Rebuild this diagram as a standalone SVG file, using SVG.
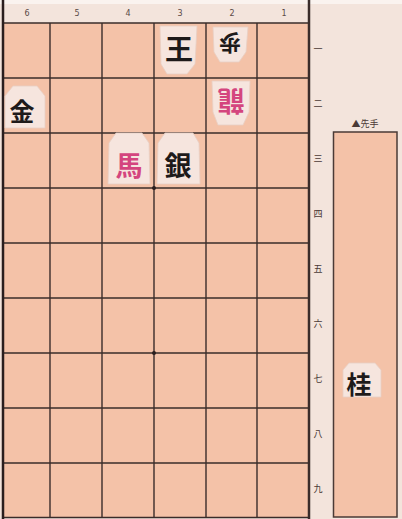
<svg xmlns="http://www.w3.org/2000/svg" width="402" height="519" viewBox="0 0 402 519">
<style>
.lbl{font-family:"Noto Sans CJK JP","Noto Sans",sans-serif;font-size:9px;fill:#4a3a36;text-anchor:middle}
.num{font-family:"DejaVu Sans",sans-serif;font-size:8px;fill:#5a4a46;text-anchor:middle}
.grid{stroke:#3a2c2a;stroke-width:1.4;fill:none}
.piece{fill:#f6e5de;stroke:#e8cfc4;stroke-width:0.8}
.pt{font-family:"Noto Sans CJK JP",sans-serif;font-weight:bold;text-anchor:middle;dominant-baseline:central;fill:#1e1a1a}
.red{fill:#d4457e}
</style>
<rect x="0" y="0" width="402" height="519" fill="#f3e4dc"/>
<rect x="0" y="0" width="402" height="4" fill="#faf3ef"/>
<g id="board">
<rect x="3" y="23" width="306" height="495" fill="#f4c2a8"/>
<g class="grid">
<line x1="50" y1="23" x2="50" y2="518"/>
<line x1="102" y1="23" x2="102" y2="518"/>
<line x1="154" y1="23" x2="154" y2="518"/>
<line x1="206" y1="23" x2="206" y2="518"/>
<line x1="257" y1="23" x2="257" y2="518"/>
<line x1="3" y1="23" x2="309" y2="23"/>
<line x1="3" y1="78" x2="309" y2="78"/>
<line x1="3" y1="133" x2="309" y2="133"/>
<line x1="3" y1="188" x2="309" y2="188"/>
<line x1="3" y1="243" x2="309" y2="243"/>
<line x1="3" y1="298" x2="309" y2="298"/>
<line x1="3" y1="353" x2="309" y2="353"/>
<line x1="3" y1="408" x2="309" y2="408"/>
<line x1="3" y1="463" x2="309" y2="463"/>
<line x1="3" y1="517.5" x2="309" y2="517.5"/>
</g>
<line x1="3" y1="0" x2="3" y2="519" stroke="#2a1e1e" stroke-width="2.5"/>
<line x1="309" y1="0" x2="309" y2="519" stroke="#3a2c2a" stroke-width="2.5"/>
<circle cx="154" cy="188" r="2" fill="#2a1e1e"/>
<circle cx="154" cy="353" r="2" fill="#2a1e1e"/>
</g>
<g id="col-labels">
<text class="num" x="27" y="16">6</text>
<text class="num" x="77" y="16">5</text>
<text class="num" x="128" y="16">4</text>
<text class="num" x="180" y="16">3</text>
<text class="num" x="232" y="16">2</text>
<text class="num" x="284" y="16">1</text>
</g>
<g id="row-labels">
<text class="lbl" x="318" y="52">一</text>
<text class="lbl" x="318" y="107">二</text>
<text class="lbl" x="318" y="162">三</text>
<text class="lbl" x="318" y="217">四</text>
<text class="lbl" x="318" y="272">五</text>
<text class="lbl" x="318" y="327">六</text>
<text class="lbl" x="318" y="382">七</text>
<text class="lbl" x="318" y="437">八</text>
<text class="lbl" x="318" y="492">九</text>
</g>
<g id="komadai">
<rect x="333.5" y="132" width="63.5" height="385" fill="#f4c2a8" stroke="#4a3a36" stroke-width="1.5"/>
<text class="lbl" x="365" y="127">▲先手</text>
</g>
<g id="piece-ou">
<polygon class="piece" points="160,26 197,26 195,64 187,74 167,74 161,64"/>
<text class="pt" x="179" y="48" font-size="28">王</text>
</g>
<g id="piece-fu">
<polygon class="piece" points="213,27 248,27 246,52 239,62 220,62 214,52"/>
<text class="pt" x="230" y="45" font-size="22" transform="rotate(180 230 45)">歩</text>
</g>
<g id="piece-ryu">
<polygon class="piece" points="212,81 250,81 249,112 243,125 218,125 213,112"/>
<text class="pt red" x="231" y="102" font-size="27" transform="rotate(180 231 102)">龍</text>
</g>
<g id="piece-kin">
<polygon class="piece" points="5,96 13,86 37,86 45,96 45,128 5,128"/>
<text class="pt" x="22" y="110" font-size="25">金</text>
</g>
<g id="piece-uma">
<polygon class="piece" points="109,143 116,133 142,133 149,143 150,184 108,184"/>
<text class="pt red" x="129" y="164" font-size="27">馬</text>
</g>
<g id="piece-gin">
<polygon class="piece" points="158,143 165,133 193,133 199,143 200,184 157,184"/>
<text class="pt" x="178" y="164" font-size="27">銀</text>
</g>
<g id="piece-kei">
<polygon class="piece" points="343,370 349,363 375,363 381,370 381,397 343,397"/>
<text class="pt" x="359" y="383" font-size="25">桂</text>
</g>
</svg>
